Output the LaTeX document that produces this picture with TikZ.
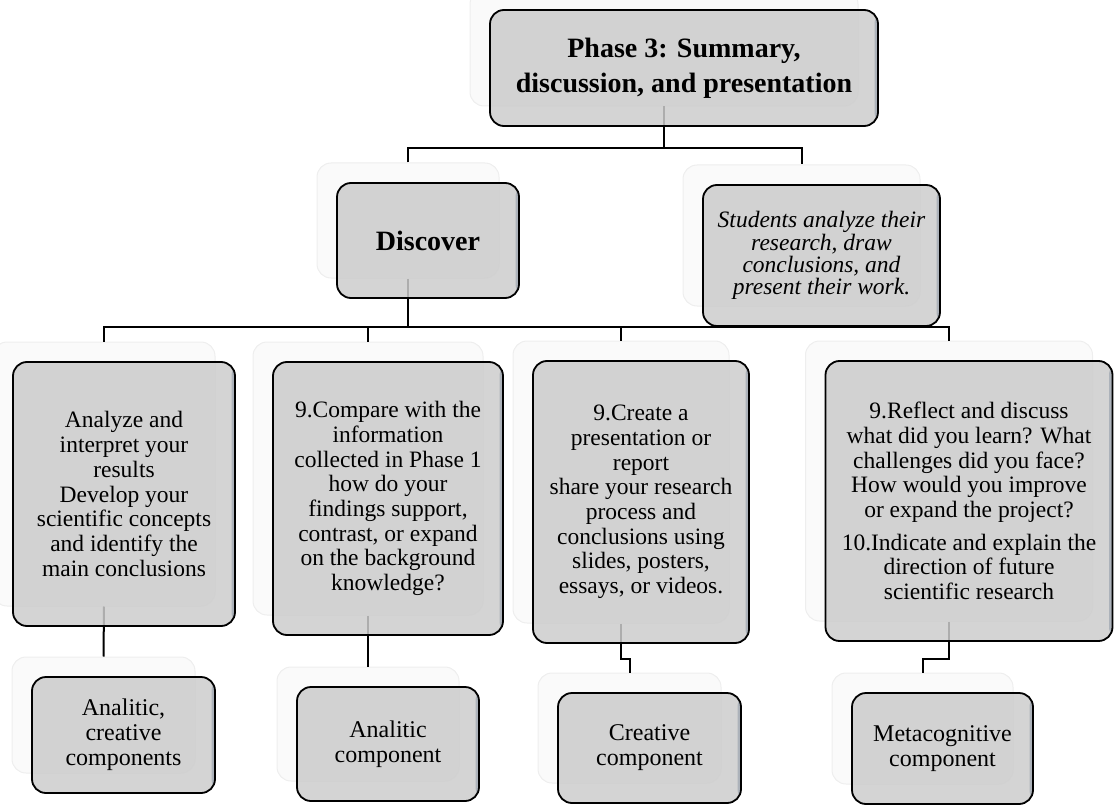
\documentclass[tikz,border=0pt]{standalone}
\usepackage{fontspec}
\setmainfont{Liberation Serif}
\definecolor{boxfill}{RGB}{204,204,204}
\definecolor{ghostfill}{RGB}{250,250,250}
\definecolor{ghostline}{RGB}{238,238,238}
\definecolor{edgeshade}{RGB}{140,152,165}
\begin{document}
\begin{tikzpicture}[x=1pt,y=-1pt,
  box/.style={draw=black, line width=1.8pt, rounded corners=14pt,
    fill=boxfill, fill opacity=0.85, text opacity=1, align=center,
    inner sep=0pt, font=\fontsize{23.5}{24.7}\selectfont,
    path picture={\fill[edgeshade, fill opacity=0.55]
      ([xshift=-3.5pt]path picture bounding box.north east)
      rectangle (path picture bounding box.south east);}},
  headbox/.style={box, font=\bfseries\fontsize{28}{35}\selectfont},
  notebox/.style={box, font=\itshape\fontsize{23.5}{22.3}\selectfont},
  leafbox/.style={box, font=\fontsize{24}{25}\selectfont},
  ghost/.style={draw=ghostline, line width=1pt, fill=ghostfill,
    rounded corners=14pt, inner sep=0pt},
  link/.style={draw=black, line width=2pt}]
\useasboundingbox (0,0) rectangle (1114,805);

% faint reflections behind each box, shifted up and to the left
\node[ghost, minimum width=388pt, minimum height=116pt] (gtop)  at (664,48) {};
\node[ghost, minimum width=182pt, minimum height=115pt] (gdisc) at (408,220.5) {};
\node[ghost, minimum width=237pt, minimum height=141pt] (gstud) at (801.5,235.5) {};
\node[ghost, minimum width=222pt, minimum height=264pt] (gb1) at (104,474) {};
\node[ghost, minimum width=230pt, minimum height=273pt] (gb2) at (368,478.5) {};
\node[ghost, minimum width=216pt, minimum height=282pt] (gb3) at (621,482) {};
\node[ghost, minimum width=287pt, minimum height=280pt] (gb4) at (949,481) {};
\node[ghost, minimum width=183pt, minimum height=116pt] (gc1) at (103.5,715) {};
\node[ghost, minimum width=182pt, minimum height=114pt] (gc2) at (368,724) {};
\node[ghost, minimum width=183pt, minimum height=110pt] (gc3) at (629.5,728) {};
\node[ghost, minimum width=181pt, minimum height=111pt] (gc4) at (922.5,728.5) {};

% connectors
\draw[link] (gtop.south) -- ++(0,42) coordinate (j1);
\draw[link] (gdisc.north) |- (j1) -| (gstud.north);
\draw[link] (gdisc.south) -- ++(0,48) coordinate (j2);
\draw[link] (gb1.north) |- (j2) -| (gb4.north);
\draw[link] (gb2.north) -- (gb2.north |- j2);
\draw[link] (gb3.north) -- (gb3.north |- j2);
\draw[link] (gb1.south) -- (gc1.north);
\draw[link] (gb2.south) -- (gc2.north);
\draw[link] (gb3.south) -- ++(0,35) -| (gc3.north);
\draw[link] (gb4.south) -- ++(0,37) -| (gc4.north);

% boxes
\node[headbox, minimum width=388pt, minimum height=116pt] (top) at (684,68)
  {Phase 3: Summary,\\discussion, and presentation};
\node[headbox, minimum width=182pt, minimum height=115pt] (disc) at (428,240.5)
  {Discover};
\node[notebox, minimum width=237pt, minimum height=141pt] (stud) at (821.5,255.5)
  {Students analyze their\\research, draw\\conclusions, and\\present their work.};
\node[box, minimum width=222pt, minimum height=264pt] (b1) at (124,494)
  {Analyze and\\interpret your\\results\\Develop your\\scientific concepts\\and identify the\\main conclusions};
\node[box, minimum width=230pt, minimum height=273pt] (b2) at (388,498.5)
  {9.Compare with the\\information\\collected in Phase 1\\how do your\\findings support,\\contrast, or expand\\on the background\\knowledge?};
\node[box, minimum width=216pt, minimum height=282pt] (b3) at (641,502)
  {9.Create a\\presentation or\\report\\share your research\\process and\\conclusions using\\slides, posters,\\essays, or videos.};
\node[box, minimum width=287pt, minimum height=280pt] (b4) at (969,501)
  {9.Reflect and discuss\\what did you learn? What\\challenges did you face?\\How would you improve\\or expand the project?\\[8pt]10.Indicate and explain the\\direction of future\\scientific research};
\node[leafbox, minimum width=183pt, minimum height=116pt] (c1) at (123.5,735)
  {Analitic,\\creative\\components};
\node[leafbox, minimum width=182pt, minimum height=114pt] (c2) at (388,744)
  {Analitic\\component};
\node[leafbox, minimum width=183pt, minimum height=110pt] (c3) at (649.5,748)
  {Creative\\component};
\node[leafbox, minimum width=181pt, minimum height=111pt] (c4) at (942.5,748.5)
  {Metacognitive\\component};
\end{tikzpicture}
\end{document}
